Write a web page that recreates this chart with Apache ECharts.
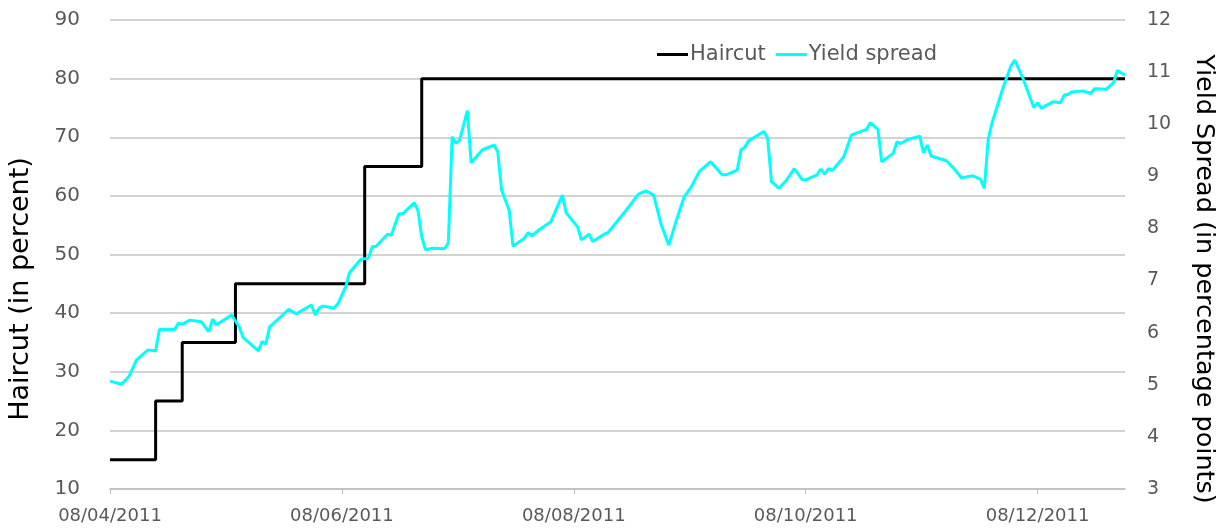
<!DOCTYPE html>
<html>
<head>
<meta charset="utf-8">
<script src="https://cdn.jsdelivr.net/npm/echarts@6/dist/echarts.min.js"></script>
<style>
html, body { margin: 0; padding: 0; background: #fff; }
#chart { width: 1226px; height: 529px; }
</style>
</head>
<body>
<div id="chart"></div>
<script>
// haircut steps: value holds from this date until the next one
var haircutDates = ['2011-04-08', '2011-04-20', '2011-04-27', '2011-05-11', '2011-06-14', '2011-06-29', '2011-12-31'];
var haircutValues = [15, 25, 35, 45, 65, 80, 80];

var spreadDates = [
    '2011-04-08', '2011-04-11', '2011-04-13', '2011-04-15', '2011-04-18', '2011-04-20', '2011-04-21', '2011-04-25',
    '2011-04-26', '2011-04-27', '2011-04-29', '2011-05-02', '2011-05-03', '2011-05-04', '2011-05-05', '2011-05-06',
    '2011-05-10', '2011-05-12', '2011-05-13', '2011-05-17', '2011-05-18', '2011-05-19', '2011-05-20', '2011-05-23',
    '2011-05-25', '2011-05-27', '2011-05-31', '2011-06-01', '2011-06-02', '2011-06-03', '2011-06-06', '2011-06-07',
    '2011-06-09', '2011-06-10', '2011-06-13', '2011-06-15', '2011-06-16', '2011-06-17', '2011-06-20', '2011-06-21',
    '2011-06-23', '2011-06-24', '2011-06-27', '2011-06-28', '2011-06-29', '2011-06-30', '2011-07-02', '2011-07-05',
    '2011-07-06', '2011-07-07', '2011-07-08', '2011-07-09', '2011-07-11', '2011-07-12', '2011-07-15', '2011-07-18',
    '2011-07-19', '2011-07-20', '2011-07-22', '2011-07-23', '2011-07-26', '2011-07-27', '2011-07-28', '2011-07-30',
    '2011-08-02', '2011-08-05', '2011-08-06', '2011-08-09', '2011-08-10', '2011-08-12', '2011-08-13', '2011-08-16',
    '2011-08-17', '2011-08-19', '2011-08-20', '2011-08-22', '2011-08-25', '2011-08-27', '2011-08-29', '2011-08-31',
    '2011-09-02', '2011-09-04', '2011-09-06', '2011-09-08', '2011-09-10', '2011-09-13', '2011-09-16', '2011-09-17',
    '2011-09-20', '2011-09-21', '2011-09-22', '2011-09-23', '2011-09-27', '2011-09-28', '2011-09-29', '2011-10-01',
    '2011-10-03', '2011-10-05', '2011-10-07', '2011-10-08', '2011-10-11', '2011-10-12', '2011-10-13', '2011-10-14',
    '2011-10-15', '2011-10-18', '2011-10-20', '2011-10-24', '2011-10-25', '2011-10-27', '2011-10-28', '2011-10-31',
    '2011-11-01', '2011-11-02', '2011-11-04', '2011-11-07', '2011-11-08', '2011-11-09', '2011-11-10', '2011-11-14',
    '2011-11-16', '2011-11-17', '2011-11-18', '2011-11-21', '2011-11-23', '2011-11-24', '2011-11-25', '2011-11-26',
    '2011-11-29', '2011-12-01', '2011-12-02', '2011-12-04', '2011-12-07', '2011-12-08', '2011-12-09', '2011-12-12',
    '2011-12-14', '2011-12-15', '2011-12-16', '2011-12-17', '2011-12-20', '2011-12-22', '2011-12-23', '2011-12-26',
    '2011-12-28', '2011-12-29', '2011-12-31'
];
var spreadValues = [
    5.07, 5.01, 5.16, 5.48, 5.67, 5.65, 6.06, 6.06,
    6.18, 6.16, 6.24, 6.21, 6.11, 6.02, 6.26, 6.15,
    6.34, 6.11, 5.91, 5.65, 5.83, 5.78, 6.11, 6.31,
    6.45, 6.36, 6.53, 6.34, 6.47, 6.51, 6.47, 6.56,
    6.88, 7.15, 7.41, 7.43, 7.65, 7.66, 7.89, 7.87,
    8.28, 8.28, 8.49, 8.35, 7.84, 7.59, 7.62, 7.61,
    7.72, 9.76, 9.63, 9.70, 10.26, 9.26, 9.51, 9.60,
    9.47, 8.74, 8.35, 7.66, 7.81, 7.92, 7.86, 7.98,
    8.13, 8.64, 8.30, 8.03, 7.78, 7.89, 7.75, 7.89,
    7.92, 8.10, 8.19, 8.37, 8.66, 8.72, 8.64, 8.07,
    7.68, 8.16, 8.60, 8.81, 9.09, 9.28, 9.03, 9.03,
    9.12, 9.51, 9.56, 9.68, 9.86, 9.73, 8.90, 8.77,
    8.93, 9.15, 8.94, 8.93, 9.03, 9.14, 9.04, 9.15,
    9.11, 9.37, 9.79, 9.90, 10.03, 9.90, 9.28, 9.44,
    9.66, 9.63, 9.71, 9.77, 9.45, 9.60, 9.39, 9.30,
    9.15, 9.06, 8.97, 9.01, 8.94, 8.77, 9.70, 10.02,
    10.72, 11.12, 11.23, 10.91, 10.32, 10.41, 10.31, 10.43,
    10.41, 10.56, 10.57, 10.62, 10.64, 10.59, 10.68, 10.67,
    10.80, 11.03, 10.94
];

var startDate = '2011-04-08';
var endDate = '2011-12-31';
var tickDays = 61; // 08/04, 08/06, 08/08, 08/10, 08/12

var DAY = 24 * 3600 * 1000;

function toPairs(dates, values) {
    var out = [];
    for (var i = 0; i < dates.length; i++) {
        out.push([Date.parse(dates[i]), values[i]]);
    }
    return out;
}

function fmtDate(ms) {
    var d = new Date(ms);
    var dd = ('0' + d.getUTCDate()).slice(-2);
    var mm = ('0' + (d.getUTCMonth() + 1)).slice(-2);
    return dd + '/' + mm + '/' + d.getUTCFullYear();
}

var chart = echarts.init(document.getElementById('chart'));
var font = '"DejaVu Sans", sans-serif';

var option = {
    backgroundColor: '#ffffff',
    animation: false,
    grid: { left: 110, right: 101, top: 20, bottom: 40 },
    legend: {
        left: 652,
        top: 39,
        itemWidth: 31,
        itemHeight: 3,
        itemGap: 10,
        icon: 'rect',
        textStyle: { fontFamily: font, fontSize: 21, color: '#595959', padding: [0, 0, 0, -3] },
        data: ['Haircut', 'Yield spread']
    },
    // rotated axis titles
    graphic: [{
        type: 'text',
        x: 21,
        y: 289,
        rotation: Math.PI / 2,
        style: {
            text: 'Haircut (in percent)',
            font: '27px "DejaVu Sans", sans-serif',
            fill: '#000000',
            textAlign: 'center',
            textVerticalAlign: 'middle',
            align: 'center',
            verticalAlign: 'middle'
        }
    }, {
        type: 'text',
        x: 1204,
        y: 279,
        rotation: -Math.PI / 2,
        style: {
            text: 'Yield Spread (in percentage points)',
            font: '25.5px "DejaVu Sans", sans-serif',
            fill: '#000000',
            textAlign: 'center',
            textVerticalAlign: 'middle',
            align: 'center',
            verticalAlign: 'middle'
        }
    }],
    xAxis: {
        type: 'value',
        min: Date.parse(startDate),
        max: Date.parse(endDate),
        interval: tickDays * DAY,
        axisLine: { show: true, lineStyle: { color: '#bfbfbf', width: 1.5 } },
        axisTick: { show: true, length: 5, lineStyle: { color: '#bfbfbf' } },
        splitLine: { show: false },
        axisLabel: {
            showMaxLabel: false,
            margin: 18,
            fontFamily: font,
            fontSize: 18,
            color: '#595959',
            formatter: fmtDate
        }
    },
    yAxis: [{
        type: 'value',
        min: 10,
        max: 90,
        interval: 10,
        axisLine: { show: false },
        axisTick: { show: false },
        splitLine: { lineStyle: { color: '#c4c4c4', width: 1.5 } },
        axisLabel: { margin: 30, fontFamily: font, fontSize: 20, color: '#595959' }
    }, {
        type: 'value',
        min: 3,
        max: 12,
        interval: 1,
        axisLine: { show: false },
        axisTick: { show: false },
        splitLine: { show: false },
        axisLabel: { margin: 22, fontFamily: font, fontSize: 19, color: '#595959' }
    }],
    series: [{
        name: 'Haircut',
        type: 'line',
        yAxisIndex: 0,
        step: 'end',
        showSymbol: false,
        color: '#000000',
        lineStyle: { width: 3, color: '#000000' },
        data: toPairs(haircutDates, haircutValues)
    }, {
        name: 'Yield spread',
        type: 'line',
        yAxisIndex: 1,
        showSymbol: false,
        color: '#00ffff',
        lineStyle: { width: 3, color: '#00ffff' },
        data: toPairs(spreadDates, spreadValues)
    }]
};

chart.setOption(option);
</script>
</body>
</html>
